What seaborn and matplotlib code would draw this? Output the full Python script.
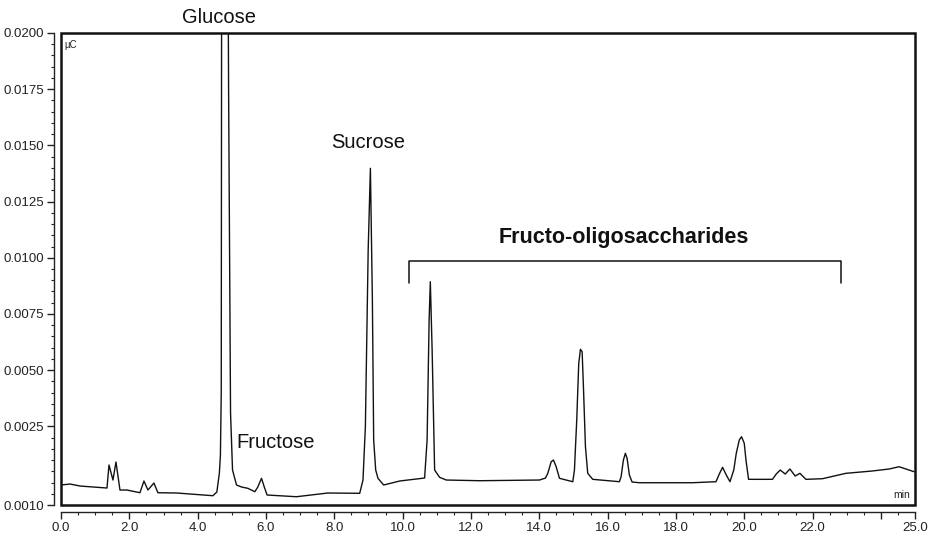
import matplotlib
matplotlib.use("Agg")
import matplotlib.pyplot as plt
import matplotlib.patches as mpatches
from matplotlib.ticker import FixedLocator, MultipleLocator
import pandas as pd
import seaborn as sns

# chromatogram trace: retention time (min) and signal (uC)
time_min = [0.000, 0.263, 0.556, 1.345, 1.404, 1.520, 1.608, 1.725, 1.930, 2.310,
            2.427, 2.544, 2.719, 2.836, 3.392, 4.444, 4.561, 4.635, 4.665, 4.690,
            4.700, 4.800, 4.895, 4.905, 4.962, 5.020, 5.137, 5.284, 5.468, 5.673,
            5.760, 5.868, 5.950, 6.032, 6.892, 7.807, 8.743, 8.839, 8.909, 8.991,
            9.056, 9.114, 9.152, 9.211, 9.278, 9.444, 9.912, 10.643, 10.716, 10.775,
            10.810, 10.863, 10.936, 11.082, 11.278, 12.251, 14.006, 14.181, 14.249, 14.348,
            14.415, 14.494, 14.591, 14.980, 15.029, 15.096, 15.155, 15.205, 15.254, 15.292,
            15.351, 15.418, 15.564, 16.345, 16.395, 16.462, 16.520, 16.570, 16.637, 16.716,
            16.930, 18.488, 19.173, 19.269, 19.365, 19.474, 19.582, 19.693, 19.766, 19.854,
            19.921, 20.000, 20.050, 20.126, 20.827, 20.936, 21.053, 21.199, 21.336, 21.491,
            21.629, 21.804, 22.289, 22.974, 23.743, 24.240, 24.532, 24.971]
signal_uc = [-0.000110, -0.000066, -0.000155, -0.000244, 0.000780, 0.000112, 0.000913, -0.000333, -0.000333, -0.000453,
             0.000068, -0.000333, -0.000021, -0.000453, -0.000466, -0.000586, -0.000422, 0.000424, 0.001200, 0.004000,
             0.021000, 0.023500, 0.021000, 0.017500, 0.003093, 0.000557, -0.000110, -0.000199, -0.000257, -0.000408,
             -0.000199, 0.000188, -0.000199, -0.000555, -0.000631, -0.000466, -0.000479, 0.000112, 0.002484, 0.010345,
             0.013980, 0.008120, 0.001892, 0.000557, 0.000188, -0.000110, 0.000068, 0.000201, 0.001892, 0.007231,
             0.008935, 0.005896, 0.000557, 0.000232, 0.000112, 0.000081, 0.000112, 0.000201, 0.000410, 0.000926,
             0.001002, 0.000704, 0.000188, 0.000037, 0.000557, 0.002782, 0.005304, 0.005927, 0.005820, 0.004263,
             0.001594, 0.000410, 0.000143, 0.000037, 0.000259, 0.001002, 0.001300, 0.001078, 0.000335, 0.000023,
             -0.000008, -0.000008, 0.000037, 0.000379, 0.000677, 0.000335, 0.000037, 0.000557, 0.001300, 0.001892,
             0.002039, 0.001745, 0.001002, 0.000143, 0.000143, 0.000379, 0.000557, 0.000379, 0.000602, 0.000290,
             0.000410, 0.000143, 0.000170, 0.000410, 0.000513, 0.000602, 0.000704, 0.000482]

y_tick_vals = [-0.0010, 0.0025, 0.0050, 0.0075, 0.0100, 0.0125, 0.0150, 0.0175, 0.0200]
y_tick_text = ['0.0010', '0.0025', '0.0050', '0.0075', '0.0100', '0.0125', '0.0150', '0.0175', '0.0200']
x_tick_vals = [0, 2, 4, 6, 8, 10, 12, 14, 16, 18, 20, 22, 24, 25]
x_tick_text = ['0.0', '2.0', '4.0', '6.0', '8.0', '10.0', '12.0', '14.0', '16.0', '18.0', '20.0', '22.0', '', '25.0']

peak_names = ['Glucose', 'Sucrose', 'Fructose']
peak_label_t = [4.62, 8.98, 6.29]
peak_label_v = [0.02067, 0.01515, 0.0018]

fos_label = 'Fructo-oligosaccharides'
fos_bracket_t = [10.18, 10.18, 22.84, 22.84]
fos_bracket_v = [0.00888, 0.00986, 0.00986, 0.00888]

df = pd.DataFrame({'time': time_min, 'signal': signal_uc})

sns.set_style('white')
plt.rcParams['font.family'] = ['Liberation Sans', 'DejaVu Sans']

fig = plt.figure(figsize=(9.29, 5.33), dpi=100)
ax = fig.add_axes([0.0657, 0.0525, 0.9193, 0.8856])
sns.lineplot(data=df, x='time', y='signal', color='#111111', linewidth=1.0,
             estimator=None, sort=False, ax=ax)

ax.set_xlim(0, 25)
ax.set_ylim(-0.0010, 0.0200)
ax.set_xlabel('')
ax.set_ylabel('')

# axes drawn a few pixels outside the frame, like the instrument software
for side in ['left', 'bottom']:
    ax.spines[side].set_position(('outward', 5))
    ax.spines[side].set_linewidth(1.0)
    ax.spines[side].set_color('#222222')
ax.spines['top'].set_visible(False)
ax.spines['right'].set_visible(False)
ax.add_patch(mpatches.Rectangle((0, 0), 1, 1, transform=ax.transAxes, fill=False,
                                lw=1.8, edgecolor='#111111', clip_on=False, zorder=5))

ax.yaxis.set_major_locator(FixedLocator(y_tick_vals))
ax.set_yticklabels(y_tick_text)
ax.yaxis.set_minor_locator(MultipleLocator(0.0005))
ax.xaxis.set_major_locator(FixedLocator(x_tick_vals))
ax.set_xticklabels(x_tick_text)
ax.xaxis.set_minor_locator(MultipleLocator(0.5))
ax.tick_params(which='major', direction='out', length=5, width=1, color='#222222',
               labelsize=9.5, labelcolor='#222222', pad=2,
               left=True, bottom=True)
ax.tick_params(which='minor', direction='out', length=2.5, width=0.8, color='#222222',
               left=True, bottom=True)

for name, t, v in zip(peak_names, peak_label_t, peak_label_v):
    ax.text(t, v, name, ha='center', va='center', fontsize=14.5, color='#111111', clip_on=False)

ax.plot(fos_bracket_t, fos_bracket_v, color='#111111', lw=1.1)
ax.text(16.46, 0.01088, fos_label, ha='center', va='center', fontsize=15.5,
        fontweight='bold', color='#111111')

ax.text(0.09, 0.01947, '\u00b5C', ha='left', va='center', fontsize=7, color='#222222')
ax.text(24.86, -0.00056, 'min', ha='right', va='center', fontsize=7.5, color='#222222')

fig.savefig('out.png', dpi=100)
